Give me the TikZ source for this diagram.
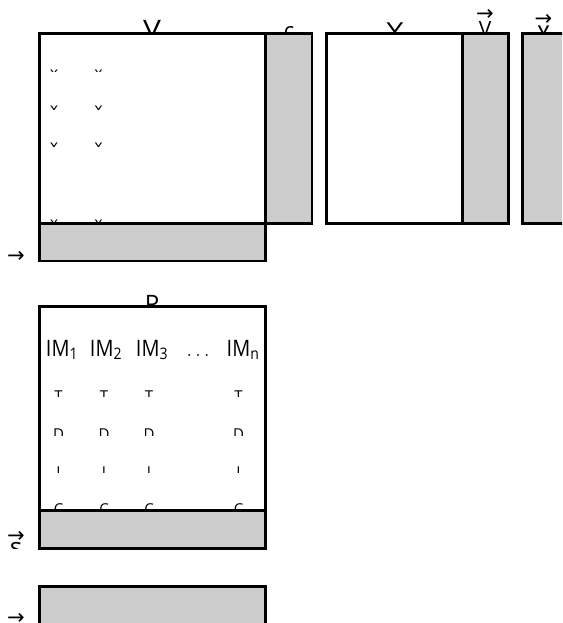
\RequirePackage{fix-cm}
\documentclass[tikz,border=0pt]{standalone}
\usepackage{fontspec}
\usepackage{amsmath}
\usepackage{graphicx}
\setmainfont{Open Sans}
\newfontfamily\arrowfont{DejaVu Sans}
\definecolor{cellgrey}{HTML}{CCCCCC}
\tikzset{
  boxw/.style={draw=black, fill=white, line width=2.5pt},
  boxg/.style={draw=black, fill=cellgrey, line width=2.5pt},
  lbl/.style={inner sep=0pt, anchor=north, text=black},
  big/.style={font=\fontsize{24}{28}\selectfont},
  mid/.style={font=\fontsize{21}{25}\selectfont},
  sml/.style={font=\fontsize{16}{19}\selectfont},
  tiny/.style={font=\fontsize{15}{18}\selectfont},
  arr/.style={inner sep=0pt, anchor=base, font=\arrowfont\fontsize{21}{25}\selectfont},
}
\begin{document}
\begin{tikzpicture}[x=1pt,y=-1pt]
\clip (0,0) rectangle (562,623);
\fill[white] (0,0) rectangle (562,623);
% ---- labels above the top boxes (lower parts hidden by boxes)
\node[lbl,big] (lX) at (152,20) {\scalebox{1.25}[1]{V}};
\node[lbl,font=\fontsize{22}{26}\selectfont] (lc) at (289,26.5) {c};
\node[lbl,font=\fontsize{22}{26}\selectfont] (lY) at (395,23) {\scalebox{1.35}[1]{Y}};
\node[arr] (aV) at (485,20.7) {→};
\node[lbl,font=\fontsize{21}{25}\selectfont] (lV) at (485,21.5) {V};
\node[arr] (ax) at (543.5,25.7) {→};
\node[lbl,font=\fontsize{33}{37}\selectfont] (lx) at (543.5,26) {\scalebox{0.75}[1]{x}};
\node[lbl,big] (lP) at (152,295) {P};
% ---- top boxes
\draw[boxw] (39.5,33.5) rectangle (265.7,223.3);
\draw[boxg] (265.7,33.5) rectangle (312,223.3);
\draw[boxw] (326.7,33.5) rectangle (462.7,223.3);
\draw[boxg] (462.7,33.5) rectangle (508.3,223.3);
\draw[boxg] (522.7,33.5) rectangle (580,223.3);
% ---- rows inside box 1
\begin{scope}
  \clip (42,60) rectangle (264,71.8);
  \node[lbl,sml] (r1a) at (54,70) {x};
  \node[lbl,sml] (r1b) at (98.5,70) {x};
\end{scope}
\begin{scope}
  \clip (42,95) rectangle (264,109.5);
  \node[lbl,sml] (r2a) at (54,105.5) {x};
  \node[lbl,sml] (r2b) at (98.5,105.5) {x};
\end{scope}
\begin{scope}
  \clip (42,132) rectangle (264,146.5);
  \node[lbl,sml] (r3a) at (54,142.5) {x};
  \node[lbl,sml] (r3b) at (98.5,142.5) {x};
\end{scope}
\node[lbl,sml] (r4a) at (54,219.5) {x};
\node[lbl,sml] (r4b) at (98.5,219.5) {x};
\draw[boxg] (39.5,223.3) rectangle (265.7,261);
% ---- left label of first block
\node[arr] (v1) at (16,262.7) {→};
% ---- block P
\draw[boxw] (39.5,306.7) rectangle (265.7,510.3);
\node[inner sep=0pt,anchor=base,mid] (im1) at (62,356) {\scalebox{0.95}[1.08]{$\text{IM}_{\text{1}}$}};
\node[inner sep=0pt,anchor=base,mid] (im2) at (106,356) {\scalebox{0.95}[1.08]{$\text{IM}_{\text{2}}$}};
\node[inner sep=0pt,anchor=base,mid] (im3) at (152,356) {\scalebox{0.95}[1.08]{$\text{IM}_{\text{3}}$}};
\node[inner sep=0pt,anchor=base,font=\fontsize{20}{24}\selectfont] (imd) at (198,356) {$\ldots$};
\node[inner sep=0pt,anchor=base,mid] (imn) at (243,356) {\scalebox{0.95}[1.08]{$\text{IM}_{\text{n}}$}};
\begin{scope}
  \clip (42,380) rectangle (264,396);
  \node[lbl,tiny] (t1) at (58.5,391) {T};
  \node[lbl,tiny] (t2) at (104,391) {T};
  \node[lbl,tiny] (t3) at (149,391) {T};
  \node[lbl,tiny] (t4) at (238.5,391) {T};
\end{scope}
\begin{scope}
  \clip (42,420) rectangle (264,435.5);
  \node[lbl,tiny] (d1) at (58.5,429) {D};
  \node[lbl,tiny] (d2) at (104,429) {D};
  \node[lbl,tiny] (d3) at (149,429) {D};
  \node[lbl,tiny] (d4) at (238.5,429) {D};
\end{scope}
\begin{scope}
  \clip (42,460) rectangle (264,472.5);
  \node[lbl,tiny] (i1) at (58.5,467) {I};
  \node[lbl,tiny] (i2) at (104,467) {I};
  \node[lbl,tiny] (i3) at (149,467) {I};
  \node[lbl,tiny] (i4) at (238.5,467) {I};
\end{scope}
\node[lbl,tiny] (c1) at (58.5,503.5) {C};
\node[lbl,tiny] (c2) at (104,503.5) {C};
\node[lbl,tiny] (c3) at (149,503.5) {C};
\node[lbl,tiny] (c4) at (238.5,503.5) {C};
\draw[boxg] (39.5,510.3) rectangle (265.7,548.3);
% ---- left label of block P
\node[arr] (v2) at (16,542.7) {→};
\begin{scope}
  \clip (0,538) rectangle (35,548.5);
  \node[lbl,font=\fontsize{26}{30}\selectfont] (s2) at (16,542.5) {s};
\end{scope}
% ---- bottom block
\draw[boxg] (39.5,586.7) rectangle (265.7,640);
\node[arr] (v3) at (16,624.7) {→};
\end{tikzpicture}
\end{document}
